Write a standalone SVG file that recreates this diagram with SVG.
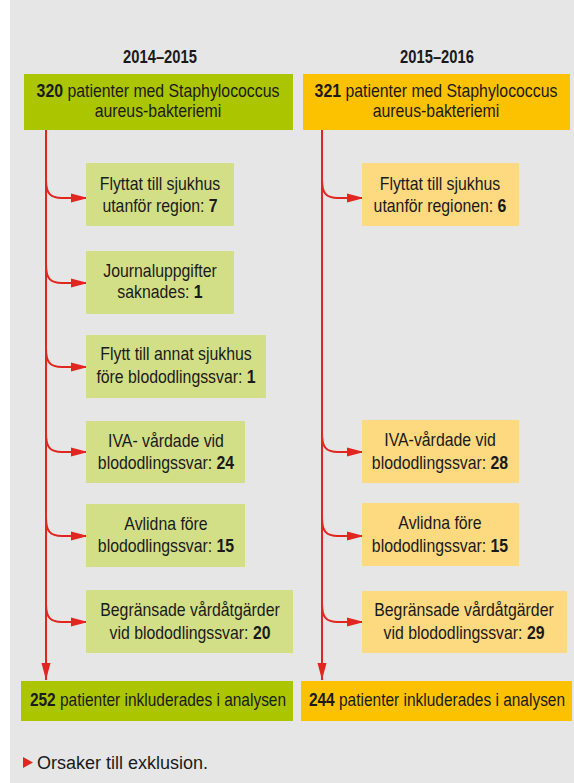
<svg xmlns="http://www.w3.org/2000/svg" width="574" height="783" viewBox="0 0 574 783">
<defs>
<style>
text{font-family:"Liberation Sans",Arial,sans-serif;font-size:18px;fill:#1a1a1a;text-anchor:middle}
.b{font-weight:bold}
.g1{fill:#abc500}.g2{fill:#d3df86}.o1{fill:#fcc200}.o2{fill:#fdd97f}
.ln{fill:none;stroke:#e0261e;stroke-width:2}
</style>
<marker id="ah" markerUnits="userSpaceOnUse" markerWidth="17" markerHeight="10" refX="17" refY="5" orient="auto"><path d="M0,0.5 L17,5 L0,9.5 z" fill="#e0261e"/></marker>
</defs>
<rect x="0" y="0" width="574" height="783" fill="#ffffff"/>
<rect x="10" y="0" width="564" height="783" fill="#e6e6e6"/>
<text class="b" transform="matrix(.82,0,0,1,160,0)" y="63">2014–2015</text>
<text class="b" transform="matrix(.82,0,0,1,437,0)" y="63">2015–2016</text>
<g id="connectors">
<path class="ln" d="M46,130 V680" marker-end="url(#ah)"/>
<path class="ln" d="M322,130 V680" marker-end="url(#ah)"/>
<path class="ln" d="M46,180 C46,193 50,198 62,198 H88" marker-end="url(#ah)"/>
<path class="ln" d="M46,265 C46,278 50,283 62,283 H88" marker-end="url(#ah)"/>
<path class="ln" d="M46,349 C46,362 50,367 62,367 H88" marker-end="url(#ah)"/>
<path class="ln" d="M46,434 C46,447 50,452 62,452 H88" marker-end="url(#ah)"/>
<path class="ln" d="M46,518 C46,531 50,536 62,536 H88" marker-end="url(#ah)"/>
<path class="ln" d="M46,604 C46,617 50,622 62,622 H88" marker-end="url(#ah)"/>
<path class="ln" d="M322,180 C322,193 326,198 338,198 H364" marker-end="url(#ah)"/>
<path class="ln" d="M322,434 C322,447 326,452 338,452 H364" marker-end="url(#ah)"/>
<path class="ln" d="M322,518 C322,531 326,536 338,536 H364" marker-end="url(#ah)"/>
<path class="ln" d="M322,604 C322,617 326,622 338,622 H364" marker-end="url(#ah)"/>
</g>
<g id="top-left"><rect class="g1" x="24" y="74" width="269" height="56"/>
<text transform="matrix(.88,0,0,1,158,0)" y="97"><tspan class="b">320</tspan> patienter med Staphylococcus</text><text transform="matrix(.88,0,0,1,158,0)" y="117">aureus-bakteriemi</text></g>
<g id="top-right"><rect class="o1" x="303" y="74" width="267" height="56"/>
<text transform="matrix(.88,0,0,1,436,0)" y="97"><tspan class="b">321</tspan> patienter med Staphylococcus</text><text transform="matrix(.88,0,0,1,436,0)" y="117">aureus-bakteriemi</text></g>
<g id="l1"><rect class="g2" x="86" y="163" width="148" height="63"/>
<text transform="matrix(.88,0,0,1,160,0)" y="190">Flyttat till sjukhus</text><text transform="matrix(.88,0,0,1,160,0)" y="212">utanför region: <tspan class="b">7</tspan></text></g>
<g id="l2"><rect class="g2" x="86" y="251" width="148" height="63"/>
<text transform="matrix(.88,0,0,1,160,0)" y="277">Journaluppgifter</text><text transform="matrix(.88,0,0,1,160,0)" y="298">saknades: <tspan class="b">1</tspan></text></g>
<g id="l3"><rect class="g2" x="86" y="335" width="180" height="63"/>
<text transform="matrix(.88,0,0,1,176,0)" y="360">Flytt till annat sjukhus</text><text transform="matrix(.88,0,0,1,176,0)" y="383">före blododlingssvar: <tspan class="b">1</tspan></text></g>
<g id="l4"><rect class="g2" x="86" y="421" width="159" height="62"/>
<text transform="matrix(.88,0,0,1,166,0)" y="447">IVA- vårdade vid</text><text transform="matrix(.88,0,0,1,166,0)" y="469">blododlingssvar: <tspan class="b">24</tspan></text></g>
<g id="l5"><rect class="g2" x="86" y="504" width="159" height="63"/>
<text transform="matrix(.88,0,0,1,166,0)" y="530">Avlidna före</text><text transform="matrix(.88,0,0,1,166,0)" y="552">blododlingssvar: <tspan class="b">15</tspan></text></g>
<g id="l6"><rect class="g2" x="86" y="590" width="207" height="63"/>
<text transform="matrix(.88,0,0,1,190,0)" y="616">Begränsade vårdåtgärder</text><text transform="matrix(.88,0,0,1,190,0)" y="639">vid blododlingssvar: <tspan class="b">20</tspan></text></g>
<g id="r1"><rect class="o2" x="362" y="163" width="157" height="63"/>
<text transform="matrix(.88,0,0,1,440,0)" y="190">Flyttat till sjukhus</text><text transform="matrix(.88,0,0,1,440,0)" y="212">utanför regionen: <tspan class="b">6</tspan></text></g>
<g id="r4"><rect class="o2" x="362" y="420" width="157" height="63"/>
<text transform="matrix(.88,0,0,1,440,0)" y="446">IVA-vårdade vid</text><text transform="matrix(.88,0,0,1,440,0)" y="469">blododlingssvar: <tspan class="b">28</tspan></text></g>
<g id="r5"><rect class="o2" x="362" y="503" width="157" height="63"/>
<text transform="matrix(.88,0,0,1,440,0)" y="529">Avlidna före</text><text transform="matrix(.88,0,0,1,440,0)" y="552">blododlingssvar: <tspan class="b">15</tspan></text></g>
<g id="r6"><rect class="o2" x="362" y="591" width="205" height="62"/>
<text transform="matrix(.88,0,0,1,464,0)" y="616">Begränsade vårdåtgärder</text><text transform="matrix(.88,0,0,1,464,0)" y="639">vid blododlingssvar: <tspan class="b">29</tspan></text></g>
<g id="bottom-left"><rect class="g1" x="21" y="681" width="272" height="40"/>
<text transform="matrix(.86,0,0,1,158,0)" y="706"><tspan class="b">252</tspan> patienter inkluderades i analysen</text></g>
<g id="bottom-right"><rect class="o1" x="301" y="681" width="271" height="40"/>
<text transform="matrix(.86,0,0,1,437,0)" y="706"><tspan class="b">244</tspan> patienter inkluderades i analysen</text></g>
<polygon points="23,757 33,762.5 23,768" fill="#e0261e"/>
<text x="37" y="769" style="text-anchor:start">Orsaker till exklusion.</text>
</svg>
